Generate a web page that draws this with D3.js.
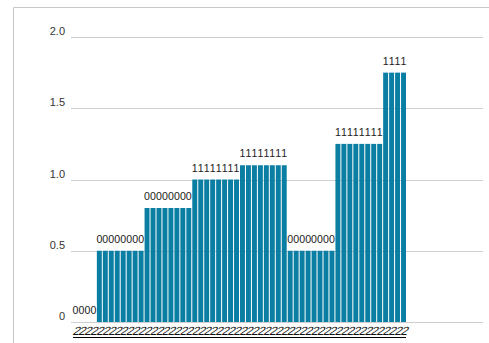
<!DOCTYPE html>
<html>
<head>
<meta charset="utf-8">
<script src="https://cdn.jsdelivr.net/npm/d3@7"></script>
<style>
  body { margin: 0; background: #fff; }
  svg { display: block; font-family: "Liberation Sans", Arial, sans-serif; }
</style>
</head>
<body>
<div id="chart"></div>
<script>
// group values and how many bars each group has
var groupValues = [0, 0.5, 0.8, 1.0, 1.1, 0.5, 1.25, 1.75];
var groupSizes = [4, 8, 8, 8, 8, 8, 8, 4];
var barLabels = ["0", "0", "0", "1", "1", "0", "1", "1"];
var yTicks = [0, 0.5, 1.0, 1.5, 2.0];
var yTickLabels = ["0", "0.5", "1.0", "1.5", "2.0"];
var xLabel = "2";

var width = 489, height = 343;

// one row per bar
var bars = [];
groupValues.forEach(function(v, g) {
    for (let k = 0; k < groupSizes[g]; k++) {
        bars.push({ i: bars.length, value: v, label: barLabels[g] });
    }
});

var svg = d3.select('#chart')
    .append('svg')
    .attr('width', width)
    .attr('height', height);

// outer frame
svg.append('path')
    .attr('d', 'M13.5,' + height + 'V7.5H' + width)
    .attr('fill', 'none')
    .attr('stroke', '#c8c8c8');

var x = d3.scaleBand()
    .domain(bars.map(d => d.i))
    .range([73, 406])
    .paddingInner(0.17)
    .paddingOuter(0);

var y = d3.scaleLinear()
    .domain([0, 2])
    .range([322, 37]);

// grid
svg.append('g')
    .selectAll('line')
    .data(yTicks)
    .enter()
    .append('line')
    .attr('x1', 71)
    .attr('x2', 483)
    .attr('y1', d => Math.round(y(d)) + 0.5)
    .attr('y2', d => Math.round(y(d)) + 0.5)
    .attr('stroke', '#cfcfcf');

// y labels
svg.append('g')
    .selectAll('text')
    .data(yTicks)
    .enter()
    .append('text')
    .attr('x', 65)
    .attr('y', d => y(d) - 2)
    .attr('text-anchor', 'end')
    .attr('font-size', 11)
    .attr('fill', '#333')
    .text((d, i) => yTickLabels[i]);

// bars
svg.append('g')
    .selectAll('rect')
    .data(bars)
    .enter()
    .append('rect')
    .attr('x', d => x(d.i))
    .attr('width', x.bandwidth())
    .attr('y', d => y(d.value))
    .attr('height', d => y(0) - y(d.value))
    .attr('fill', '#0b7ea3');

// white box behind each value label
var labelSize = 10.6;
svg.append('g')
    .selectAll('rect')
    .data(bars)
    .enter()
    .append('rect')
    .attr('x', d => x(d.i) - x.step() * x.paddingInner() / 2)
    .attr('width', x.step())
    .attr('y', d => y(d.value) - 18)
    .attr('height', 14)
    .attr('fill', '#fff');

svg.append('g')
    .selectAll('text')
    .data(bars)
    .enter()
    .append('text')
    .attr('x', d => x(d.i) + x.bandwidth() / 2)
    .attr('y', d => y(d.value) - 8)
    .attr('text-anchor', 'middle')
    .attr('font-size', labelSize)
    .attr('fill', '#222')
    .text(d => d.label);

// x labels
svg.append('g')
    .selectAll('text')
    .data(bars)
    .enter()
    .append('text')
    .attr('transform', d => 'translate(' + (x(d.i) + x.bandwidth() / 2) + ',335) skewX(-22)')
    .attr('text-anchor', 'middle')
    .attr('font-size', 12)
    .attr('fill', '#111')
    .text(xLabel);

svg.append('line')
    .attr('x1', 73)
    .attr('x2', 406)
    .attr('y1', 337.5)
    .attr('y2', 337.5)
    .attr('stroke', '#000');
</script>
</body>
</html>
